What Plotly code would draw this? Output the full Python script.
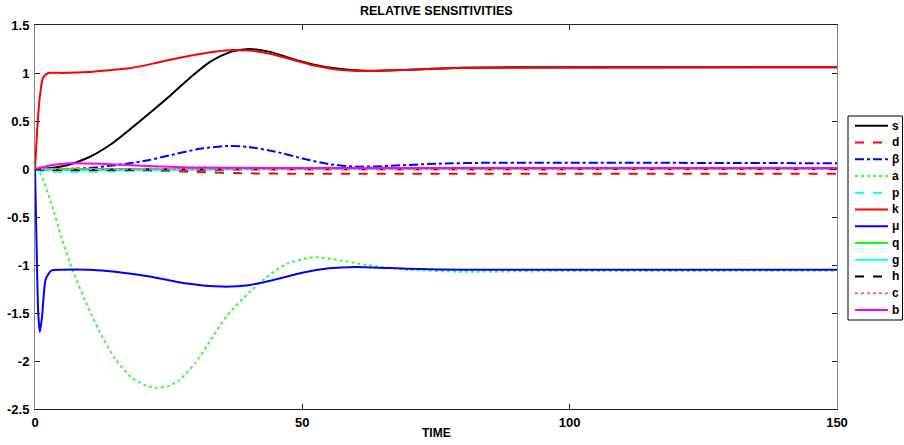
import plotly.graph_objects as go

# ---- data (time, value) ----
t_s = [0, 3, 6, 10, 14, 17.7, 21.4, 25.2, 29, 32.6, 34.5, 37, 40, 44, 48, 52, 56, 62, 70, 80, 90, 150]
v_s = [0, 0.01, 0.04, 0.12, 0.25, 0.41, 0.58, 0.76, 0.95, 1.11, 1.17, 1.225, 1.25, 1.22, 1.15, 1.09, 1.05, 1.024, 1.035, 1.055, 1.06, 1.06]

t_d = [0, 10, 20, 30, 40, 50, 60, 150]
v_d = [0, -0.01, -0.015, -0.03, -0.045, -0.05, -0.05, -0.05]

t_beta = [0, 5, 10, 15, 17.7, 21.4, 25, 30.8, 36, 40, 45, 50, 55, 60, 65, 75, 85, 150]
v_beta = [0, 0.0, 0.01, 0.04, 0.06, 0.094, 0.14, 0.21, 0.24, 0.23, 0.18, 0.11, 0.05, 0.025, 0.03, 0.055, 0.065, 0.06]

t_a = [0, 1, 3, 5, 7, 10, 12.6, 15, 18, 20.5, 22.7, 25, 27, 30, 33, 36, 40, 43, 47, 52, 57, 62, 70, 80, 90, 150]
v_a = [0, -0.05, -0.35, -0.72, -1.05, -1.45, -1.75, -1.98, -2.17, -2.25, -2.28, -2.26, -2.2, -2.02, -1.77, -1.52, -1.29, -1.14, -0.99, -0.92, -0.95, -1.0, -1.05, -1.07, -1.065, -1.06]

t_p = [0, 1, 5, 15, 30, 50, 150]
v_p = [0, -0.02, -0.03, -0.025, -0.01, 0.0, 0.0]

t_k = [0, 0.4, 0.84, 1.5, 2.5, 5, 10, 14, 17.7, 21.4, 25, 30, 34, 37, 40, 44, 48, 52, 56, 62, 70, 80, 150]
v_k = [0, 0.4, 0.72, 0.95, 1.0, 1.0, 1.01, 1.03, 1.05, 1.09, 1.135, 1.19, 1.225, 1.24, 1.235, 1.2, 1.14, 1.08, 1.04, 1.02, 1.035, 1.055, 1.06]

t_mu = [0, 0.3, 0.6, 0.9, 1.3, 2, 3, 5, 10, 15, 21.4, 28, 35, 40, 45, 50, 55, 60, 70, 80, 150]
v_mu = [0, -0.8, -1.5, -1.7, -1.55, -1.15, -1.06, -1.05, -1.05, -1.07, -1.12, -1.19, -1.225, -1.21, -1.15, -1.08, -1.035, -1.02, -1.04, -1.05, -1.05]

t_q = [0, 150]
v_q = [0, 0]

t_g = [0, 2, 20, 50, 150]
v_g = [0, -0.01, -0.01, 0, 0]

t_h = [0, 2, 10, 25, 150]
v_h = [0, -0.01, -0.01, -0.005, 0.0]

t_c = [0, 150]
v_c = [0, 0]

t_b = [0, 3, 7, 12, 20, 30, 50, 150]
v_b = [0, 0.04, 0.06, 0.055, 0.035, 0.015, 0.01, 0.01]

x_ticks = [0, 50, 100, 150]
y_ticks = [-2.5, -2, -1.5, -1, -0.5, 0, 0.5, 1, 1.5]
y_labels = ["-2.5", "-2", "-1.5", "-1", "-0.5", "0", "0.5", "1", "1.5"]

series = [
    ("s", t_s, v_s, "#000000", "solid"),
    ("d", t_d, v_d, "#ff0000", "dash"),
    ("β", t_beta, v_beta, "#0000ff", "dashdot"),
    ("a", t_a, v_a, "#33ff33", "dot"),
    ("p", t_p, v_p, "#00ffff", "dash"),
    ("k", t_k, v_k, "#ff0000", "solid"),
    ("μ", t_mu, v_mu, "#0000ff", "solid"),
    ("q", t_q, v_q, "#00ff00", "solid"),
    ("g", t_g, v_g, "#00ffff", "solid"),
    ("h", t_h, v_h, "#000000", "dash"),
    ("c", t_c, v_c, "#ff6666", "dot"),
    ("b", t_b, v_b, "#ff00ff", "solid"),
]

W, H = 904, 445
ML, MT = 35, 25
PW, PH = 837 - 35, 409 - 25
MR, MB = W - ML - PW, H - MT - PH


def px2paper_x(px):
    return (px - ML) / PW


def px2paper_y(py):
    return (MT + PH - py) / PH


fig = go.Figure()
for name, tx, vy, col, dash in series:
    fig.add_trace(go.Scatter(
        x=tx, y=vy, name=name, mode="lines", showlegend=False,
        line=dict(color=col, width=2, dash=dash, shape="spline", smoothing=0.6),
    ))

# ---- legend box drawn manually (MATLAB style compact legend) ----
shapes = [dict(type="rect", xref="paper", yref="paper",
               x0=px2paper_x(848), x1=px2paper_x(902.5), y0=px2paper_y(320), y1=px2paper_y(116),
               line=dict(color="#000000", width=1), fillcolor="white", layer="above")]
annotations = []
for i, (name, tx, vy, col, dash) in enumerate(series):
    py = 125.7 + i * 16.75
    shapes.append(dict(type="line", xref="paper", yref="paper",
                       x0=px2paper_x(855), x1=px2paper_x(888),
                       y0=px2paper_y(py), y1=px2paper_y(py),
                       line=dict(color=col, width=2, dash=dash), layer="above"))
    annotations.append(dict(xref="paper", yref="paper", x=px2paper_x(890), y=px2paper_y(py),
                            text="<b>%s</b>" % name, showarrow=False, xanchor="left", yanchor="middle",
                            font=dict(family="Liberation Sans", size=12, color="#000000")))

annotations.append(dict(xref="paper", yref="paper", x=0.5, y=px2paper_y(433),
                        text="<b>TIME</b>", showarrow=False, xanchor="center", yanchor="middle",
                        font=dict(family="Liberation Sans", size=12, color="#000000")))
annotations.append(dict(xref="paper", yref="paper", x=0.5, y=px2paper_y(11),
                        text="<b>RELATIVE SENSITIVITIES</b>", showarrow=False, xanchor="center", yanchor="middle",
                        font=dict(family="Liberation Sans", size=12.5, color="#000000")))

axis_common = dict(
    showgrid=False, zeroline=False, showline=True, linewidth=1,
    mirror="ticks", ticks="inside", ticklen=5, automargin=False,
    tickfont=dict(family="Liberation Sans", size=13, color="#000000", weight="bold"),
)

fig.update_layout(
    width=W, height=H,
    margin=dict(l=ML, r=MR, t=MT, b=MB),
    paper_bgcolor="white", plot_bgcolor="white",
    xaxis=dict(range=[0, 150], tickvals=x_ticks, ticktext=[str(v) for v in x_ticks],
               linecolor="#222222", tickcolor="#222222", ticklabelstandoff=1, **axis_common),
    yaxis=dict(range=[-2.5, 1.5], tickvals=y_ticks, ticktext=y_labels,
               linecolor="#888888", tickcolor="#222222", ticklabelstandoff=2, **axis_common),
    shapes=shapes,
    annotations=annotations,
    showlegend=False,
)

# remove the default page margin so the 904x445 figure fills the window exactly
fig.write_html("out.html",
               config={"displayModeBar": False},
               post_script="document.body.style.margin='0';document.body.style.overflow='hidden';")
